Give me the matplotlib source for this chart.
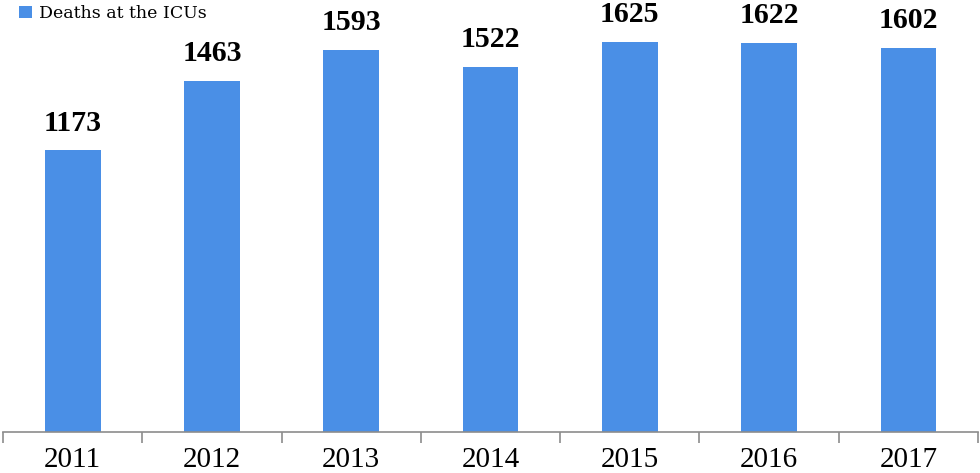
import matplotlib
matplotlib.use("Agg")
import matplotlib.pyplot as plt
import numpy as np

years = ["2011", "2012", "2013", "2014", "2015", "2016", "2017"]
deaths = [1173, 1463, 1593, 1522, 1625, 1622, 1602]
series_name = "Deaths at the ICUs"

bar_color = "#4a8fe6"
serif = "Liberation Serif"

fig = plt.figure(figsize=(9.8, 4.73), dpi=100)
ax = fig.add_axes([3/980, 41/473, 975/980, 432/473])

x = np.arange(len(years))
bars = ax.bar(x, deaths, width=0.40, color=bar_color, label=series_name, zorder=2)

for xi, v in zip(x, deaths):
    ax.annotate(str(v), (xi, v), xytext=(0, 10), textcoords="offset points",
                ha="center", va="bottom", fontsize=21.5, fontweight="bold",
                family=serif, color="#000000")

ax.set_xlim(-0.5, len(years) - 0.5)
ax.set_ylim(0, 1800)

for s in ["top", "right", "left"]:
    ax.spines[s].set_visible(False)
ax.spines["bottom"].set_color("#8c8c8c")
ax.spines["bottom"].set_linewidth(1.2)
ax.set_yticks([])

ax.set_xticks(x)
ax.set_xticklabels(years, fontsize=21, family=serif)
ax.tick_params(axis="x", which="major", length=0, pad=11)
ax.set_xticks(np.arange(-0.5, len(years), 1.0), minor=True)
ax.tick_params(axis="x", which="minor", length=8, width=1.2, color="#8c8c8c", direction="out")

leg = ax.legend(loc="upper left", bbox_to_anchor=(0.008, 1.008), frameon=False,
                prop={"family": "DejaVu Serif", "size": 12.5}, handlelength=0.7,
                handleheight=0.7, handletextpad=0.4, borderaxespad=0.2,
                borderpad=0.3)

fig.savefig("out.png", dpi=100)
